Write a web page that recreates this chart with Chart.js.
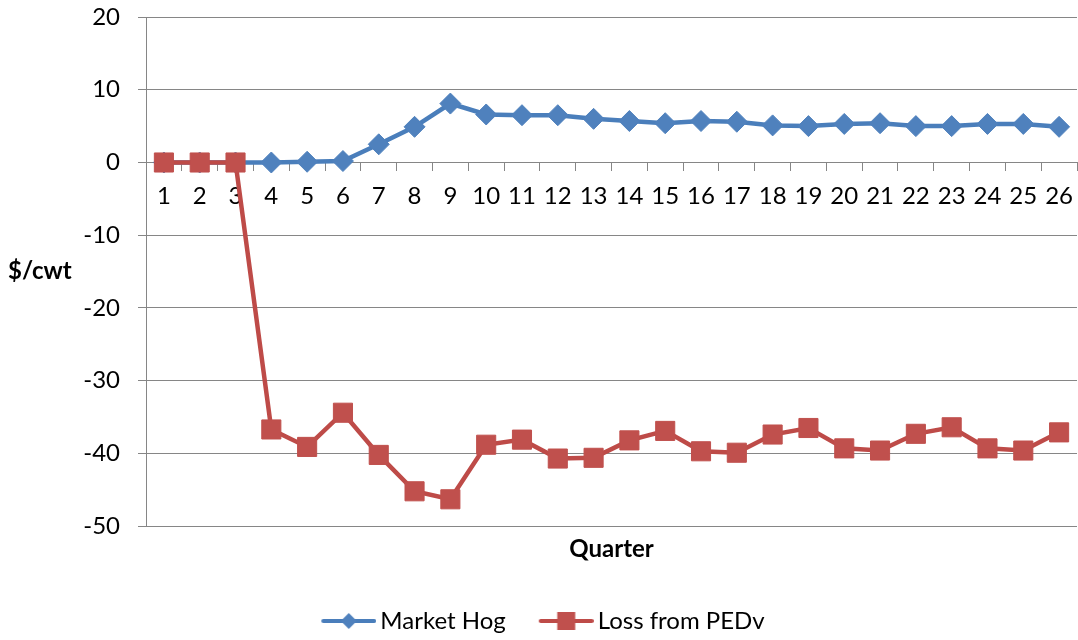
<!DOCTYPE html>
<html>
<head>
<meta charset="utf-8">
<title>Market Hog vs Loss from PEDv</title>
<script src="https://cdn.jsdelivr.net/npm/chart.js@4.4.1/dist/chart.umd.min.js"></script>
<style>
  html, body { margin: 0; padding: 0; background: #fff; }
  .chart-container { position: relative; width: 1078px; height: 640px; }
</style>
</head>
<body>
<div class="chart-container">
  <canvas id="chart"></canvas>
</div>
<script>
// Quarters 1..26
const QUARTERS = ['1','2','3','4','5','6','7','8','9','10','11','12','13',
                  '14','15','16','17','18','19','20','21','22','23','24','25','26'];

// $/cwt
const MARKET_HOG = [0, 0, 0, 0.0, 0.1, 0.2, 2.5, 4.9, 8.1, 6.6, 6.5, 6.5, 6.0,
                    5.7, 5.4, 5.7, 5.6, 5.1, 5.0, 5.3, 5.4, 5.0, 5.0, 5.3, 5.3, 4.9];
const LOSS_PEDV  = [0, 0, 0, -36.7, -39.1, -34.4, -40.2, -45.2, -46.3, -38.8, -38.1, -40.7, -40.6,
                    -38.2, -36.9, -39.7, -39.9, -37.4, -36.5, -39.3, -39.6, -37.3, -36.4, -39.3, -39.6, -37.1];

const Y_MIN  = -50;
const Y_MAX  = 20;
const Y_STEP = 10;

const FONT   = 'Lato, "Open Sans", sans-serif';
const GRID   = '#868686';
const BLUE   = '#4A7EBB';
const BLUE_M = '#4F81BD';
const RED    = '#BE4B48';
const RED_M  = '#C0504D';

// legend icon: line with marker, drawn right-aligned on a small canvas
function legendIcon(color, marker, kind) {
  const c = document.createElement('canvas');
  c.width = 80; c.height = 22;
  const g = c.getContext('2d');
  const x0 = 25, x1 = 80, cy = 11, cx = (x0 + x1) / 2;
  g.strokeStyle = color;
  g.lineWidth = 4;
  g.lineCap = 'round';
  g.beginPath(); g.moveTo(x0 + 2, cy); g.lineTo(x1 - 2, cy); g.stroke();
  g.fillStyle = marker;
  g.beginPath();
  if (kind === 'diamond') {
    g.moveTo(cx, cy - 8); g.lineTo(cx + 8, cy); g.lineTo(cx, cy + 8); g.lineTo(cx - 8, cy);
  } else {
    g.rect(cx - 9, cy - 9, 18, 18);
  }
  g.closePath(); g.fill();
  return c;
}

// y axis title is horizontal in the original
const yTitle = {
  id: 'yTitle',
  afterDraw(chart) {
    const { ctx, chartArea } = chart;
    ctx.save();
    ctx.font = `bold 24px ${FONT}`;
    ctx.fillStyle = '#000';
    ctx.textAlign = 'left';
    ctx.textBaseline = 'middle';
    ctx.fillText('$/cwt', 8, (chartArea.top + chartArea.bottom) / 2);
    ctx.restore();
  },
};

const noPad = (scale) => {
  scale.paddingTop = 0; scale.paddingBottom = 0;
  scale.paddingLeft = 0; scale.paddingRight = 0;
};

const icons = [legendIcon(BLUE, BLUE_M, 'diamond'), legendIcon(RED, RED_M, 'square')];

new Chart(document.getElementById('chart'), {
  type: 'line',
  data: {
    labels: QUARTERS,
    datasets: [
      {
        label: 'Market Hog',
        data: MARKET_HOG,
        borderColor: BLUE,
        borderWidth: 4.5,
        pointStyle: 'rectRot',
        pointRadius: 10.5,
        pointBackgroundColor: BLUE_M,
        pointBorderColor: BLUE_M,
        pointBorderWidth: 1,
        tension: 0,
        order: 1,
      },
      {
        label: 'Loss from PEDv',
        data: LOSS_PEDV,
        borderColor: RED,
        borderWidth: 4.5,
        pointStyle: 'rect',
        pointRadius: 13.5,
        pointBackgroundColor: RED_M,
        pointBorderColor: RED_M,
        pointBorderWidth: 1,
        tension: 0,
        order: 0,
      },
    ],
  },
  options: {
    responsive: true,
    maintainAspectRatio: false,
    animation: false,
    // left is negative so the full-width legend sits a little left, as in the original
    layout: { autoPadding: false, padding: { top: 17, right: 1, bottom: -3, left: -8 } },
    plugins: {
      tooltip: { enabled: false },
      title: {
        display: true,
        text: 'Quarter',
        position: 'bottom',
        fullSize: false,
        weight: 500,
        color: '#000',
        font: { family: FONT, size: 24, weight: 'bold' },
        padding: { top: 9, bottom: 29 },
      },
      legend: {
        position: 'bottom',
        labels: {
          usePointStyle: true,
          pointStyleWidth: 64,
          padding: 16,
          color: '#000',
          font: { family: FONT, size: 24 },
          generateLabels: (chart) => chart.data.datasets.map((ds, i) => ({
            text: ds.label,
            datasetIndex: i,
            pointStyle: icons[i],
            fillStyle: 'transparent',
            strokeStyle: 'transparent',
            lineWidth: 0,
            fontColor: '#000',
            hidden: !chart.isDatasetVisible(i),
          })),
        },
      },
    },
    scales: {
      x: {
        type: 'category',
        offset: true,
        position: { y: 0 },
        afterFit: (scale) => { scale.height = 0; noPad(scale); },
        grid: {
          offset: true,
          drawOnChartArea: false,
          drawTicks: true,
          tickLength: 8,
          color: GRID,
        },
        border: { color: GRID, width: 1 },
        ticks: {
          color: '#000',
          font: { family: FONT, size: 24 },
          padding: 11,
          maxRotation: 0,
          autoSkip: false,
        },
      },
      y: {
        min: Y_MIN,
        max: Y_MAX,
        afterFit: (scale) => { scale.width = 154; noPad(scale); },
        grid: { color: GRID, tickLength: 8 },
        border: { color: GRID, width: 1 },
        ticks: {
          stepSize: Y_STEP,
          color: '#000',
          font: { family: FONT, size: 24 },
          padding: 18,
        },
      },
    },
  },
  plugins: [yTitle],
});
</script>
</body>
</html>
